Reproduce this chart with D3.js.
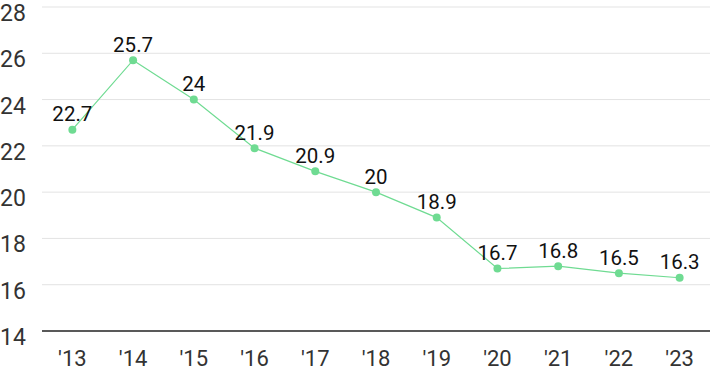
<!DOCTYPE html>
<html><head><meta charset="utf-8">
<script src="https://cdn.jsdelivr.net/npm/d3@7"></script>
<style>body{margin:0;background:#fff}svg{display:block}</style>
</head><body>
<script>
const categories = ["'13","'14","'15","'16","'17","'18","'19","'20","'21","'22","'23"];
const values = [22.7,25.7,24,21.9,20.9,20,18.9,16.7,16.8,16.5,16.3];
const yTicks = [14,16,18,20,22,24,26,28];

const W=710,H=371;
const svg=d3.select("body").append("svg").attr("width",W).attr("height",H);
const font="Roboto, 'Noto Sans', sans-serif";
const x=d3.scaleBand().domain(categories).range([42,710]);
const y=d3.scaleLinear().domain([14,28]).range([331,7]);

svg.append("g").selectAll("line").data(yTicks.filter(d=>d>14)).join("line")
  .attr("x1",42).attr("x2",710).attr("y1",d=>y(d)).attr("y2",d=>y(d))
  .attr("stroke","#e3e3e3").attr("stroke-width",1);
svg.append("line").attr("x1",42).attr("x2",710).attr("y1",y(14)).attr("y2",y(14))
  .attr("stroke","#222").attr("stroke-width",1.3);

svg.append("g").selectAll("text").data(yTicks).join("text")
  .attr("x",0).attr("y",d=>y(d)+14)
  .attr("font-family",font).attr("font-size",23).attr("fill","#333").text(d=>d);

svg.append("g").selectAll("text").data(categories).join("text")
  .attr("x",d=>x(d)+x.bandwidth()/2).attr("y",365.5).attr("text-anchor","middle")
  .attr("font-family",font).attr("font-size",22).attr("fill","#333").text(d=>d);

const data=categories.map((c,i)=>({c,v:values[i]}));
svg.append("path").datum(data)
  .attr("d",d3.line().x(d=>x(d.c)+x.bandwidth()/2).y(d=>y(d.v)))
  .attr("fill","none").attr("stroke","#6fdb92").attr("stroke-width",1.2);
svg.append("g").selectAll("circle").data(data).join("circle")
  .attr("cx",d=>x(d.c)+x.bandwidth()/2).attr("cy",d=>y(d.v)).attr("r",4)
  .attr("fill","#6fdb92");
svg.append("g").selectAll("text").data(data).join("text")
  .attr("x",d=>x(d.c)+x.bandwidth()/2).attr("y",d=>y(d.v)-8.5).attr("text-anchor","middle")
  .attr("font-family",font).attr("font-size",20.5).attr("fill","#111").text(d=>d.v);
</script>
</body></html>
